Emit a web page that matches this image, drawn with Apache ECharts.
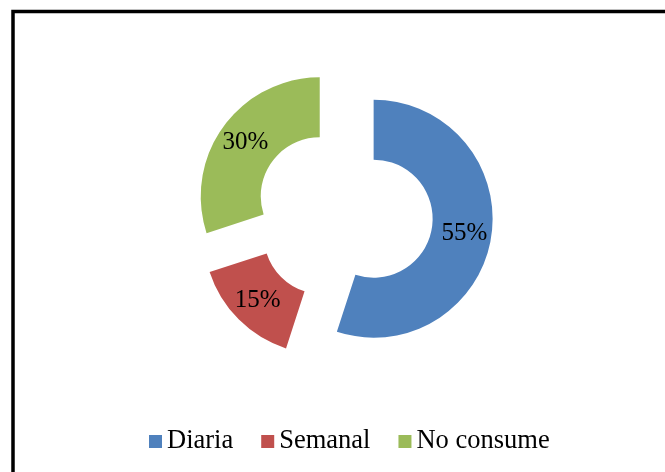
<!DOCTYPE html>
<html>
<head>
<meta charset="utf-8">
<script src="https://cdn.jsdelivr.net/npm/echarts@6/dist/echarts.min.js"></script>
<style>
  html, body { margin: 0; padding: 0; background: #fff; }
  #main { width: 665px; height: 472px; }
</style>
</head>
<body>
<div id="main"></div>
<script>
var categories = ['Diaria', 'Semanal', 'No consume'];
var values = [55, 15, 30];
var colors = ['#4F81BD', '#C0504D', '#9BBB59'];

var chart = echarts.init(document.getElementById('main'));

var pieData = categories.map(function (name, i) {
    return { name: name, value: values[i], selected: true, itemStyle: { color: colors[i] } };
});

var option = {
    animation: false,
    textStyle: { fontFamily: 'Liberation Serif', color: '#000' },
    graphic: [{
        type: 'rect',
        shape: { x: 13, y: 11.5, width: 700, height: 500 },
        style: { fill: 'none', stroke: '#000', lineWidth: 3.5 },
        silent: true
    }],
    legend: {
        data: categories,
        left: 144,
        top: 423,
        itemWidth: 13,
        itemHeight: 13,
        itemGap: 28,
        icon: 'rect',
        textStyle: { fontFamily: 'Liberation Serif', fontSize: 26.5, color: '#000' },
        selectedMode: false
    },
    series: [{
        type: 'pie',
        center: [344, 214],
        radius: [59, 119],
        startAngle: 90,
        clockwise: true,
        selectedMode: 'multiple',
        selectedOffset: 30,
        label: {
            position: 'inside',
            formatter: '{c}%',
            fontFamily: 'Liberation Serif',
            fontSize: 25,
            color: '#000'
        },
        labelLine: { show: false },
        emphasis: { disabled: true },
        data: pieData
    }]
};

chart.setOption(option);
</script>
</body>
</html>
